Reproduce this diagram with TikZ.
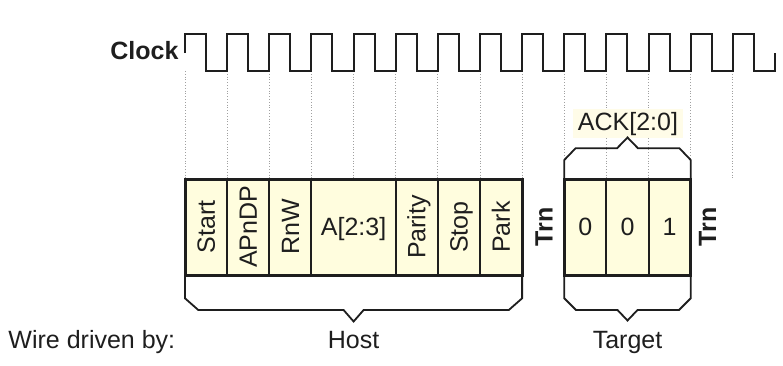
\documentclass[tikz,border=0pt]{standalone}
\usepackage{fontspec}
\setmainfont{Liberation Sans}
\usetikzlibrary{calc}
\definecolor{cellfill}{RGB}{255,253,222}
\definecolor{ackfill}{RGB}{255,252,232}
\definecolor{ink}{RGB}{30,30,30}
\definecolor{dotgray}{RGB}{160,160,160}
\begin{document}
\begin{tikzpicture}[x=1pt,y=-1pt,
  every node/.style={font=\fontsize{25}{30}\selectfont, text=ink, inner sep=0pt, outer sep=0pt},
  cell/.style={draw=ink, line width=2pt, fill=cellfill, minimum height=96pt, minimum width=42.14pt},
  vlabel/.style={rotate=90, anchor=base},
  hlabel/.style={anchor=base},
  boldlabel/.style={font=\fontsize{25}{30}\selectfont\bfseries},
  clk/.style={draw=ink, line width=2pt, line join=miter},
  guide/.style={draw=dotgray, line width=0.8pt, dotted},
  bracepath/.style={draw=ink, line width=1.8pt, line join=miter},
  boxframe/.style={draw=ink, line width=3pt}]

\useasboundingbox (0,0) rectangle (783,365);

% dotted guides from the clock down to the frames
\foreach \k in {0,...,13} {
  \pgfmathsetmacro\xx{185+42.143*\k}
  \draw[guide] (\xx,71) -- (\xx,179);
}

% clock
\node[boldlabel, anchor=base east] (clocklbl) at (178.5,59.3) {Clock};
\draw[clk] (185,53) -- (185,34)
  \foreach \k in {0,...,12} { -- ++(21.07,0) -- ++(0,37) -- ++(21.07,0) -- ++(0,-37) }
  -- ++(21.07,0) -- ++(0,37) -- ++(21.07,0) -- ++(0,-18);

% ACK label and brace above target
\node[fill=ackfill, inner xsep=5pt, inner ysep=3pt, anchor=base] (ack) at (628,130) {ACK[2:0]};
\draw[bracepath] (564.3,179) -- (564.3,160) -- (575.5,148.3) -- (617,148.3) -- (627.5,137.5)
  -- (638,148.3) -- (679.5,148.3) -- (690.7,160) -- (690.7,179);

% host cells
\node[cell] (cstart) at (206.07,227) {};
\node[cell] (capndp) at (248.21,227) {};
\node[cell] (crnw) at (290.36,227) {};
\node[cell, minimum width=84.29pt] (caddr) at (353.57,227) {};
\node[cell] (cparity) at (416.79,227) {};
\node[cell] (cstop) at (458.93,227) {};
\node[cell] (cpark) at (501.07,227) {};
\draw[boxframe] (cstart.north west) rectangle (cpark.south east);

\node[vlabel] (tstart) at ($(cstart.center)+(8.7,0)$) {Start};
\node[vlabel] (tapndp) at ($(capndp.center)+(8.7,0)$) {APnDP};
\node[vlabel] (trnw) at ($(crnw.center)+(8.7,0)$) {RnW};
\node[hlabel] (taddr) at ($(caddr.center)+(0,8.5)$) {A[2:3]};
\node[vlabel] (tparity) at ($(cparity.center)+(8.7,0)$) {Parity};
\node[vlabel] (tstop) at ($(cstop.center)+(8.7,0)$) {Stop};
\node[vlabel] (tpark) at ($(cpark.center)+(8.7,0)$) {Park};

% turnarounds
\node[boldlabel, rotate=90, anchor=base] (trn1) at (552.7,227) {Trn};
\node[boldlabel, rotate=90, anchor=base] (trn2) at (716.2,227) {Trn};

% target cells
\node[cell] (cack0) at (585.36,227) {};
\node[cell] (cack1) at (627.5,227) {};
\node[cell] (cack2) at (669.64,227) {};
\draw[boxframe] (cack0.north west) rectangle (cack2.south east);
\node[hlabel] (tack0) at ($(cack0.center)+(0,8.5)$) {0};
\node[hlabel] (tack1) at ($(cack1.center)+(0,8.5)$) {0};
\node[hlabel] (tack2) at ($(cack2.center)+(0,8.5)$) {1};

% braces below
\draw[bracepath] (cstart.south west) -- (185,298.3) -- (198.3,310) -- (343.6,310) -- (353.6,321.5)
  -- (363.6,310) -- (508.8,310) -- (522.1,298.3) -- (cpark.south east);
\draw[bracepath] (cack0.south west) -- (564.3,298.3) -- (576,310) -- (617.5,310) -- (627.5,320.5)
  -- (637.5,310) -- (679,310) -- (690.7,298.3) -- (cack2.south east);

% bottom labels
\node[anchor=base west] (wire) at (8.5,348.3) {Wire driven by:};
\node[anchor=base] (host) at (353.6,348.3) {Host};
\node[anchor=base] (target) at (627.5,348.3) {Target};
\end{tikzpicture}
\end{document}
